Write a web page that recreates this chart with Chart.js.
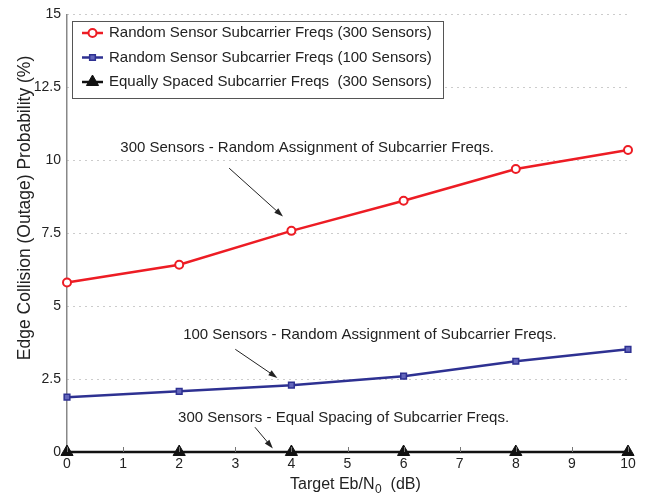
<!DOCTYPE html>
<html>
<head>
<meta charset="utf-8">
<script src="https://cdn.jsdelivr.net/npm/chart.js@4"></script>
<style>
  html, body { margin: 0; padding: 0; background: #fff; }
  #wrap { width: 658px; height: 500px; }
</style>
</head>
<body>
<div id="wrap"><canvas id="outageChart" width="658" height="500"></canvas></div>
<script>
const EBN0_DB = [0, 2, 4, 6, 8, 10];
const RANDOM_300 = [5.81, 6.42, 7.58, 8.61, 9.70, 10.35];
const RANDOM_100 = [1.88, 2.08, 2.29, 2.60, 3.11, 3.52];
const EQUAL_300 = [0, 0, 0, 0, 0, 0];
const SERIES_LABELS = [
    "Random Sensor Subcarrier Freqs (300 Sensors)",
    "Random Sensor Subcarrier Freqs (100 Sensors)",
    "Equally Spaced Subcarrier Freqs  (300 Sensors)"
];
const NOTE_TEXT = [
    "300 Sensors - Random Assignment of Subcarrier Freqs.",
    "100 Sensors - Random Assignment of Subcarrier Freqs.",
    "300 Sensors - Equal Spacing of Subcarrier Freqs."
];
const Y_TITLE = "Edge Collision (Outage) Probability (%)";
const X_TITLE = ["Target Eb/N", "0", "  (dB)"];

const FONT = "'Liberation Sans', Arial, Helvetica, sans-serif";

// text anchors and arrows, in data units
const NOTES = [
    { text: NOTE_TEXT[0], x: 0.95, y: 10.42, from: [2.89, 9.73], to: [3.85, 8.07] },
    { text: NOTE_TEXT[1], x: 2.07, y: 4.03, from: [3.0, 3.52], to: [3.75, 2.54] },
    { text: NOTE_TEXT[2], x: 1.98, y: 1.16, from: [3.35, 0.85], to: [3.67, 0.12] }
];

function toPoints(ys) {
    return EBN0_DB.map((x, i) => ({ x: x, y: ys[i] }));
}

function drawArrow(ctx, x1, y1, x2, y2) {
    const ang = Math.atan2(y2 - y1, x2 - x1);
    const len = 9, half = 3;
    ctx.beginPath();
    ctx.moveTo(x1, y1);
    ctx.lineTo(x2 - Math.cos(ang) * len * 0.8, y2 - Math.sin(ang) * len * 0.8);
    ctx.stroke();
    ctx.beginPath();
    ctx.moveTo(x2, y2);
    ctx.lineTo(x2 - Math.cos(ang) * len - Math.sin(ang) * half, y2 - Math.sin(ang) * len + Math.cos(ang) * half);
    ctx.lineTo(x2 - Math.cos(ang) * len + Math.sin(ang) * half, y2 - Math.sin(ang) * len - Math.cos(ang) * half);
    ctx.closePath();
    ctx.fill();
}

const notesPlugin = {
    id: "notes",
    afterDatasetsDraw(chart) {
        const ctx = chart.ctx;
        const xs = chart.scales.x, ys = chart.scales.y;
        ctx.save();
        ctx.font = "15px " + FONT;
        ctx.fillStyle = "#222";
        ctx.strokeStyle = "#222";
        ctx.lineWidth = 1;
        ctx.textBaseline = "middle";
        ctx.textAlign = "left";
        NOTES.forEach(n => {
            ctx.fillText(n.text, xs.getPixelForValue(n.x), ys.getPixelForValue(n.y));
            drawArrow(ctx,
                xs.getPixelForValue(n.from[0]), ys.getPixelForValue(n.from[1]),
                xs.getPixelForValue(n.to[0]), ys.getPixelForValue(n.to[1]));
        });
        ctx.restore();
    }
};

// small inward tick marks on the x axis
const xTicksPlugin = {
    id: "xTicks",
    afterDatasetsDraw(chart) {
        const ctx = chart.ctx;
        const xs = chart.scales.x;
        const bottom = chart.chartArea.bottom;
        ctx.save();
        ctx.strokeStyle = "#777";
        ctx.lineWidth = 1;
        xs.ticks.forEach(t => {
            const px = Math.round(xs.getPixelForValue(t.value)) + 0.5;
            ctx.beginPath();
            ctx.moveTo(px, bottom);
            ctx.lineTo(px, bottom - 5);
            ctx.stroke();
        });
        ctx.restore();
    }
};

// axis titles, x one with a real subscript
const axisTitlePlugin = {
    id: "axisTitles",
    afterDraw(chart) {
        const ctx = chart.ctx;
        ctx.save();
        ctx.fillStyle = "#222";
        ctx.textBaseline = "alphabetic";

        ctx.translate(30, 208);
        ctx.rotate(-Math.PI / 2);
        ctx.font = "17.5px " + FONT;
        ctx.textAlign = "center";
        ctx.fillText(Y_TITLE, 0, 0);
        ctx.setTransform(1, 0, 0, 1, 0, 0);

        ctx.textAlign = "left";
        let x = 290;
        const base = 489;
        ctx.font = "16px " + FONT;
        ctx.fillText(X_TITLE[0], x, base);
        x += ctx.measureText(X_TITLE[0]).width;
        ctx.font = "12px " + FONT;
        ctx.fillText(X_TITLE[1], x + 0.5, base + 4);
        x += ctx.measureText(X_TITLE[1]).width + 0.5;
        ctx.font = "16px " + FONT;
        ctx.fillText(X_TITLE[2], x, base);
        ctx.restore();
    }
};

const legendPlugin = {
    id: "boxLegend",
    afterDraw(chart) {
        const ctx = chart.ctx;
        const left = 72, top = 21, w = 371, h = 77, rowH = 24.5;
        ctx.save();
        ctx.fillStyle = "#fff";
        ctx.fillRect(left, top, w, h);
        ctx.strokeStyle = "#555";
        ctx.lineWidth = 1;
        ctx.strokeRect(left + 0.5, top + 0.5, w, h);
        ctx.font = "15px " + FONT;
        ctx.textBaseline = "middle";
        chart.data.datasets.forEach((ds, i) => {
            const cy = top + 12 + i * rowH;
            ctx.strokeStyle = ds.borderColor;
            ctx.lineWidth = 2.5;
            ctx.beginPath();
            ctx.moveTo(left + 10, cy);
            ctx.lineTo(left + 31, cy);
            ctx.stroke();
            ctx.fillStyle = ds.pointBackgroundColor;
            ctx.strokeStyle = ds.borderColor;
            ctx.lineWidth = ds.pointBorderWidth;
            Chart.helpers.drawPoint(ctx, {
                pointStyle: ds.pointStyle,
                radius: ds.pointRadius,
                borderWidth: ds.pointBorderWidth,
                rotation: 0
            }, left + 20.5, cy);
            ctx.fillStyle = "#222";
            ctx.fillText(ds.label, left + 37, cy);
        });
        ctx.restore();
    }
};

const ctx = document.getElementById("outageChart").getContext("2d");
const outageChart = new Chart(ctx, {
    type: "line",
    data: {
        datasets: [
            {
                label: SERIES_LABELS[0],
                data: toPoints(RANDOM_300),
                borderColor: "#ed1c24",
                backgroundColor: "#ed1c24",
                pointBackgroundColor: "#fff",
                pointBorderColor: "#ed1c24",
                pointStyle: "circle",
                pointRadius: 4,
                pointBorderWidth: 2,
                borderWidth: 2.5,
                clip: false
            },
            {
                label: SERIES_LABELS[1],
                data: toPoints(RANDOM_100),
                borderColor: "#2e3192",
                backgroundColor: "#2e3192",
                pointBackgroundColor: "#6366bb",
                pointBorderColor: "#2e3192",
                pointStyle: "rect",
                pointRadius: 4,
                pointBorderWidth: 1.5,
                borderWidth: 2.5,
                clip: false
            },
            {
                label: SERIES_LABELS[2],
                data: toPoints(EQUAL_300),
                borderColor: "#111",
                backgroundColor: "#111",
                pointBackgroundColor: "#111",
                pointBorderColor: "#111",
                pointStyle: "triangle",
                pointRadius: 7,
                pointBorderWidth: 1,
                borderWidth: 2.5,
                clip: false
            }
        ]
    },
    options: {
        responsive: false,
        animation: false,
        layout: { padding: { left: 0, right: 30, top: 11, bottom: 0 } },
        plugins: {
            legend: { display: false },
            tooltip: { enabled: false }
        },
        scales: {
            x: {
                type: "linear",
                min: 0,
                max: 10,
                afterFit: s => { s.height = 48; },
                ticks: {
                    stepSize: 1,
                    padding: 4,
                    color: "#222",
                    font: { family: FONT, size: 14 }
                },
                grid: { display: false, drawTicks: false },
                border: { display: false }
            },
            y: {
                min: 0,
                max: 15,
                afterFit: s => { s.width = 67; },
                ticks: {
                    stepSize: 2.5,
                    padding: 6,
                    color: "#222",
                    font: { family: FONT, size: 14 }
                },
                grid: { color: "#999", lineWidth: 1, drawTicks: false },
                border: { display: true, color: "#888", width: 1.5, dash: [1, 5] }
            }
        }
    },
    plugins: [xTicksPlugin, notesPlugin, legendPlugin, axisTitlePlugin]
});
</script>
</body>
</html>
